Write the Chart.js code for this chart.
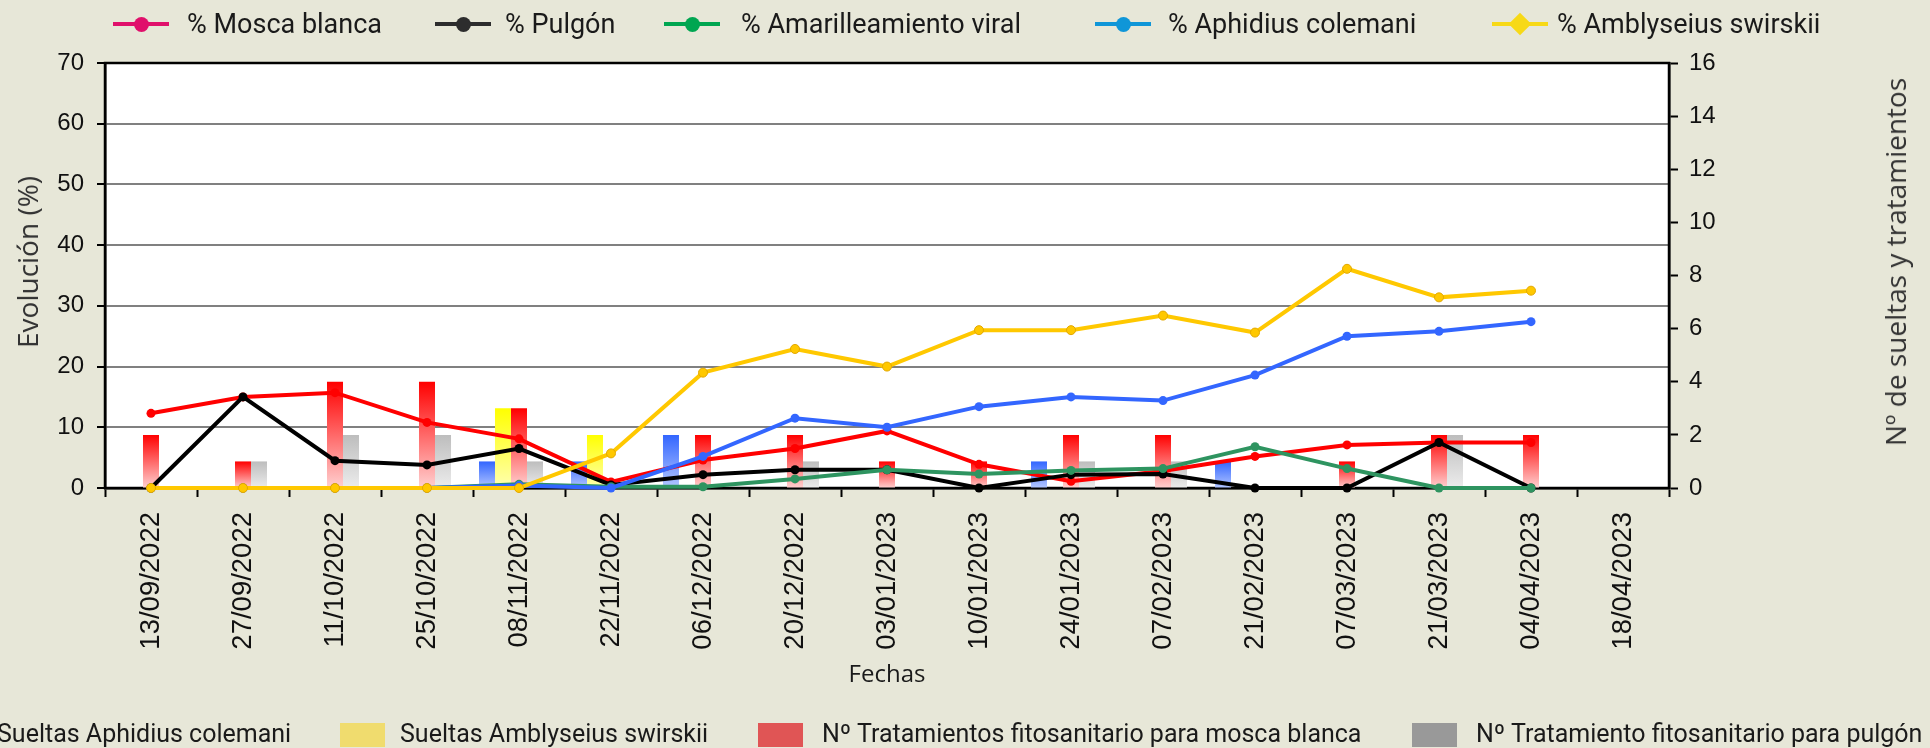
<!DOCTYPE html>
<html>
<head>
<meta charset="utf-8">
<script src="https://cdn.jsdelivr.net/npm/chart.js@4.4.0/dist/chart.umd.min.js"></script>
<style>
html,body{margin:0;padding:0;background:#e7e7d8;}
#wrap{position:relative;width:1930px;height:748px;overflow:hidden;background:#e7e7d8;}
#c{position:absolute;left:0;top:0;}
.t{position:absolute;white-space:nowrap;font-family:Roboto;color:#1a1a1a;}
.ln{position:absolute;height:4px;}
.dot{position:absolute;width:15px;height:15px;border-radius:50%;}
.dia{position:absolute;width:16px;height:16px;transform:rotate(45deg);}
.box{position:absolute;width:45px;height:24px;}
.ytitle{position:absolute;white-space:nowrap;font-family:'Open Sans';font-size:28px;color:#333;transform:translate(-50%,-50%) rotate(-90deg);}
</style>
</head>
<body>
<div id="wrap">
<canvas id="c" width="1930" height="748"></canvas>
</div>
<script>
// ---------- DATA ----------
const fechas = ['13/09/2022','27/09/2022','11/10/2022','25/10/2022','08/11/2022','22/11/2022','06/12/2022','20/12/2022','03/01/2023','10/01/2023','24/01/2023','07/02/2023','21/02/2023','07/03/2023','21/03/2023','04/04/2023','18/04/2023'];

// Lines (%), left axis
const pctMoscaBlanca   = [12.3, 15.0, 15.7, 10.8, 8.1, 1.0, 4.6, 6.5, 9.4, 3.9, 1.1, 2.8, 5.2, 7.1, 7.5, 7.5, null];
const pctPulgon        = [0, 15.0, 4.5, 3.8, 6.5, 0.5, 2.2, 3.0, 3.0, 0, 2.2, 2.3, 0, 0, 7.5, 0, null];
const pctAmarilleamiento = [0, 0, 0, 0, 0.6, 0.2, 0.2, 1.5, 3.0, 2.3, 2.9, 3.2, 6.8, 3.2, 0, 0, null];
const pctAphidius      = [0, 0, 0, 0, 0.4, 0, 5.2, 11.5, 10.0, 13.4, 15.0, 14.4, 18.6, 25.0, 25.8, 27.4, null];
const pctAmblyseius    = [0, 0, 0, 0, 0, 5.7, 19.0, 22.9, 20.0, 26.0, 26.0, 28.4, 25.6, 36.1, 31.4, 32.5, null];

// Bars (number), right axis
const sueltasAphidius   = [0, 0, 0, 0, 1, 1, 2, 0, 0, 0, 1, 0, 1, 0, 0, 0, 0];
const sueltasAmblyseius = [0, 0, 0, 0, 3, 2, 0, 0, 0, 0, 0, 0, 0, 0, 0, 0, 0];
const tratMoscaBlanca   = [2, 1, 4, 4, 3, 0, 2, 2, 1, 1, 2, 2, 0, 1, 2, 2, 0];
const tratPulgon        = [0, 1, 2, 2, 1, 0, 0, 1, 0, 0, 1, 1, 0, 0, 2, 0, 0];
const espacio           = [null, null, null, null, null, null, null, null, null, null, null, null, null, null, null, null, null];

const ticksIzq = [0, 10, 20, 30, 40, 50, 60, 70];
const ticksDer = [0, 2, 4, 6, 8, 10, 12, 14, 16];

const nombresLineas = ['% Mosca blanca', '% Pulgón', '% Amarilleamiento viral', '% Aphidius colemani', '% Amblyseius swirskii'];
const nombresBarras = ['Sueltas Aphidius colemani', 'Sueltas Amblyseius swirskii', 'Nº Tratamientos fitosanitario para mosca blanca', 'Nº Tratamiento fitosanitario para pulgón'];
const tituloY = 'Evolución (%)';
const tituloY2 = 'Nº de sueltas y tratamientos';
const tituloX = 'Fechas';

// ---------- HTML legends / titles ----------
const wrap = document.getElementById('wrap');
function el(cls, css, txt){ const d=document.createElement('div'); d.className=cls; Object.assign(d.style, css); if(txt!==undefined) d.textContent=txt; wrap.appendChild(d); return d; }

const topLeg = [
  {line:113, text:187, color:'#e0106b', mark:'dot'},
  {line:435, text:505, color:'#2d2d2d', mark:'dot'},
  {line:664, text:741, color:'#00a651', mark:'dot'},
  {line:1095, text:1168, color:'#0f96d8', mark:'dot'},
  {line:1492, text:1557, color:'#f7d917', mark:'dia'}
];
topLeg.forEach((p,i)=>{
  el('ln', {left:p.line+'px', top:'22px', width:'56px', background:p.color});
  if (p.mark==='dot') el('dot', {left:(p.line+21)+'px', top:'16.5px', background:p.color});
  else el('dia', {left:(p.line+20)+'px', top:'16px', background:p.color});
  el('t', {left:p.text+'px', top:'6px', fontSize:'27px', lineHeight:'36px'}, nombresLineas[i]);
});

const botLeg = [
  {box:-60, text:-3, color:'#3f6fe0'},
  {box:340, text:400, color:'#f0dc6e'},
  {box:758, text:822, color:'#e05555'},
  {box:1412, text:1476, color:'#999999'}
];
botLeg.forEach((p,i)=>{
  el('box', {left:p.box+'px', top:'723px', background:p.color});
  el('t', {left:p.text+'px', top:'717px', fontSize:'25px', lineHeight:'34px'}, nombresBarras[i]);
});

el('ytitle', {left:'27px', top:'262px'}, tituloY);
el('ytitle', {left:'1895px', top:'262px'}, tituloY2);

// ---------- Chart ----------
function grad(topC, botC){
  return (c) => {
    const chart = c.chart;
    if (!chart.chartArea || c.type !== 'data' || !c.raw) return topC;
    const s = chart.scales.y2;
    const y0 = s.getPixelForValue(c.raw), y1 = s.getPixelForValue(0);
    if (!isFinite(y0) || !isFinite(y1)) return topC;
    const g = chart.ctx.createLinearGradient(0, y0, 0, y1);
    g.addColorStop(0, topC); g.addColorStop(1, botC);
    return g;
  };
}

const bgPlugin = {
  id: 'bgPlugin',
  beforeDraw(chart){
    const {ctx, chartArea:a} = chart;
    ctx.save();
    ctx.fillStyle = '#e7e7d8';
    ctx.fillRect(0, 0, chart.width, chart.height);
    ctx.fillStyle = '#ffffff';
    ctx.fillRect(a.left, a.top, a.right - a.left, a.bottom - a.top);
    ctx.restore();
  },
  beforeDatasetsDraw(chart){
    const {ctx, chartArea:a} = chart;
    ctx.save();
    ctx.strokeStyle = '#000';
    ctx.lineWidth = 2.5;
    ctx.strokeRect(a.left, a.top, a.right - a.left, a.bottom - a.top);
    ctx.restore();
  }
};

function lineDs(label, data, color, order, border){
  return {
    type: 'line', label, data, yAxisID: 'y', order,
    borderColor: color, backgroundColor: color, borderWidth: 4,
    pointRadius: 4.5, pointHoverRadius: 4.5,
    pointBackgroundColor: color, pointBorderColor: border || color, pointBorderWidth: border ? 1 : 0,
    tension: 0, clip: false, spanGaps: false
  };
}
function barDs(label, data, c1, c2){
  return { type:'bar', label, data, yAxisID:'y2', order: 10,
    backgroundColor: grad(c1, c2), borderWidth: 0,
    categoryPercentage: 0.87, barPercentage: 1.0 };
}

const tickFont = {family:'Liberation Sans', size:24};

new Chart(document.getElementById('c'), {
  type: 'bar',
  data: {
    labels: fechas,
    datasets: [
      lineDs(nombresLineas[4], pctAmblyseius, '#ffc800', 0, '#e3a800'),
      lineDs(nombresLineas[3], pctAphidius, '#3366ff', 1),
      lineDs(nombresLineas[2], pctAmarilleamiento, '#2e9460', 2),
      lineDs(nombresLineas[1], pctPulgon, '#000000', 3),
      lineDs(nombresLineas[0], pctMoscaBlanca, '#ff0000', 4),
      barDs(nombresBarras[0], sueltasAphidius, '#3366ff', '#b3c6ff'),
      barDs(nombresBarras[1], sueltasAmblyseius, '#ffff00', '#ffffb0'),
      barDs(nombresBarras[2], tratMoscaBlanca, '#ff0000', '#ffd0d0'),
      barDs(nombresBarras[3], tratPulgon, '#bdbdbd', '#ececec'),
      barDs('', espacio, '#ffffff', '#ffffff')
    ]
  },
  options: {
    responsive: false,
    animation: false,
    devicePixelRatio: 1,
    layout: { padding: {left: 7, right: 181, top: 63, bottom: 54} },
    plugins: { legend: {display:false}, tooltip: {enabled:false} },
    scales: {
      x: {
        type: 'category', offset: true,
        grid: { offset: true, drawOnChartArea: false, drawTicks: true, tickLength: 9, tickColor: '#000', tickWidth: 2 },
        border: { color: '#000', width: 2.5 },
        ticks: { autoSkip: false, minRotation: 90, maxRotation: 90, padding: 15, color: '#111', font: {family:'Liberation Sans', size:27.5} },
        title: { display: true, text: tituloX, color: '#1a1a1a', font: {family:'Open Sans', size:24}, padding: {top:4, bottom:4} },
        afterFit(s){ s.height = 206; }
      },
      y: {
        position: 'left', min: 0, max: 70,
        afterBuildTicks(s){ s.ticks = ticksIzq.map(v => ({value: v})); },
        grid: { color: '#808080', lineWidth: 2, drawTicks: true, tickLength: 8, tickColor: '#000', tickWidth: 2 },
        border: { color: '#000', width: 2.5 },
        ticks: { padding: 13, color: '#111', font: tickFont },
        afterFit(s){ s.width = 98; }
      },
      y2: {
        position: 'right', min: 0, max: 16,
        afterBuildTicks(s){ s.ticks = ticksDer.map(v => ({value: v})); },
        grid: { drawOnChartArea: false, drawTicks: true, tickLength: 9, tickColor: '#000', tickWidth: 2 },
        border: { color: '#000', width: 2.5 },
        ticks: { padding: 11, color: '#111', font: tickFont },
        afterFit(s){ s.width = 80; }
      }
    }
  },
  plugins: [bgPlugin]
});
</script>
</body>
</html>
